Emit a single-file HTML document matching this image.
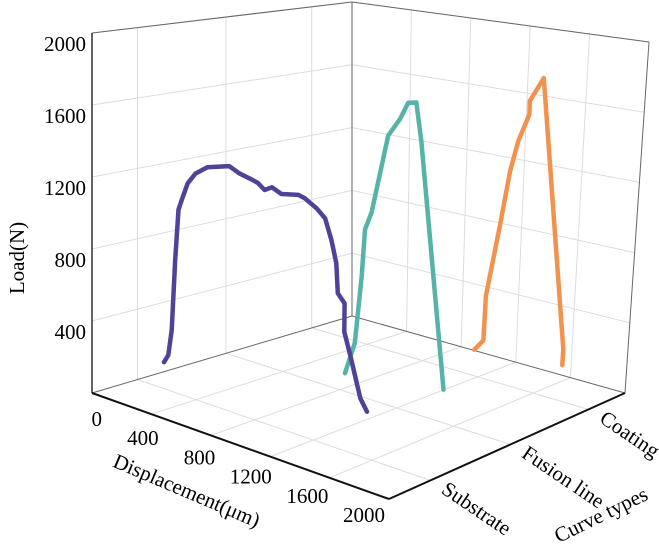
<!DOCTYPE html>
<html><head><meta charset="utf-8"><style>
html,body{margin:0;padding:0;background:#fff;}
svg{display:block;font-family:"Liberation Serif",serif;}
</style></head><body>
<svg id="chart" width="659" height="551" viewBox="0 0 659 551" xmlns="http://www.w3.org/2000/svg">
<g id="grid"></g>
<g id="edges"></g>
<g id="series"></g>
<g id="labels"></g>
<text x="0" y="0" transform="translate(24,258) rotate(-90)" text-anchor="middle" font-size="21">Load(N)</text>
<text x="0" y="0" transform="translate(184,497) rotate(23)" text-anchor="middle" font-size="21">Displacement(μm)</text>
<text x="0" y="0" transform="translate(604,521) rotate(-26)" text-anchor="middle" font-size="21">Curve types</text>
</svg>
<script>
const dispTicks = [0, 400, 800, 1200, 1600, 2000];
const loadTicks = [400, 800, 1200, 1600, 2000];
const typeCategories = ["Substrate", "Fusion line", "Coating"];
const typePositions = [0.175, 0.515, 0.845];
const substrateDisp = [195,224,247,270,292,315,354,406,486,634,702,784,828,874,924,988,1102,1146,1226,1284,1328,1362,1374,1420,1420,1464,1532,1578];
const substrateLoad = [156,204,350,750,1036,1098,1197,1262,1314,1352,1327,1311,1301,1272,1297,1274,1293,1284,1247,1206,1100,985,828,785,635,514,312,253];
const fusionDisp = [861,926,966,984,1027,1130,1209,1261,1316,1356,1548];
const fusionLoad = [117,304,690,958,1062,1512,1620,1718,1728,1517,195];
const coatingDisp = [1190,1252,1258,1338,1392,1440,1508,1508,1595,1819,1818];
const coatingLoad = [162,231,490,914,1234,1415,1580,1657,1800,304,214];

const NS = "http://www.w3.org/2000/svg";
const D_MAX = 2000, Z_MAX = 2000;
function P(d, t, z) {
  const u = d / D_MAX, v = t;
  const bx = 92 + 297*u + 260*v - 24*u*v;
  const by = 393 + 106*u - 77*v - 29*u*v;
  const H = 360 + 37*u - 46*v;
  const sx = 24*u*v;
  return [bx + sx*z/Z_MAX, by - H*z/Z_MAX];
}
function line(g, a, b, stroke, w) {
  const el = document.createElementNS(NS, "line");
  el.setAttribute("x1", a[0].toFixed(1)); el.setAttribute("y1", a[1].toFixed(1));
  el.setAttribute("x2", b[0].toFixed(1)); el.setAttribute("y2", b[1].toFixed(1));
  el.setAttribute("stroke", stroke); el.setAttribute("stroke-width", w);
  g.appendChild(el);
  return el;
}
const grid = document.getElementById("grid");
const GC = "#dcdcdc";
loadTicks.forEach(z => {
  const l1 = line(grid, P(0,0,z), P(0,1,z), GC, 1);
  
  
  const l2 = line(grid, P(0,1,z), P(D_MAX,1,z), GC, 1);
  
  
});
typePositions.forEach(t => {
  const l1 = line(grid, P(0,t,0), P(0,t,Z_MAX), GC, 1);
  
  
  const l2 = line(grid, P(0,t,0), P(D_MAX,t,0), GC, 1);
  
  
});
dispTicks.slice(1, -1).forEach(d => {
  const l1 = line(grid, P(d,1,0), P(d,1,Z_MAX), GC, 1);
  
  
  const l2 = line(grid, P(d,0,0), P(d,1,0), GC, 1);
  
  
});
const edges = document.getElementById("edges");
const EC = "#666";
[[P(0,0,Z_MAX),P(0,1,Z_MAX)],[P(0,1,Z_MAX),P(D_MAX,1,Z_MAX)],[P(0,1,0),P(0,1,Z_MAX)],
 [P(0,0,0),P(0,1,0)],[P(0,1,0),P(D_MAX,1,0)],[P(D_MAX,1,0),P(D_MAX,1,Z_MAX)]].forEach(e => {
  const el = line(edges, e[0], e[1], EC, 1);
  
  
});
const zAxis = line(edges, P(0,0,0), P(0,0,Z_MAX), "#111", 1.3);


const xAxis = line(edges, P(0,0,0), P(D_MAX,0,0), "#111", 2);


const yAxis = line(edges, P(D_MAX,0,0), P(D_MAX,1,0), "#111", 2);



const seriesG = document.getElementById("series");
function drawSeries(ds, zs, t, color, name) {
  const pts = ds.map((d, i) => P(d, t, zs[i]).map(n => n.toFixed(1)).join(",")).join(" ");
  const pl = document.createElementNS(NS, "polyline");
  pl.setAttribute("points", pts);
  pl.setAttribute("fill", "none");
  pl.setAttribute("stroke", color);
  pl.setAttribute("stroke-width", "4.5");
  pl.setAttribute("stroke-linejoin", "round");
  pl.setAttribute("stroke-linecap", "round");
  
  
  seriesG.appendChild(pl);
}
drawSeries(coatingDisp, coatingLoad, 0.833, "#f3924f", "coating-curve");
drawSeries(fusionDisp, fusionLoad, 0.5, "#55b3a7", "fusion-line-curve");
drawSeries(substrateDisp, substrateLoad, 0.167, "#4e4399", "substrate-curve");

const labels = document.getElementById("labels");
function text(x, y, s, anchor, transform) {
  const el = document.createElementNS(NS, "text");
  el.setAttribute("x", x.toFixed(1)); el.setAttribute("y", y.toFixed(1));
  el.setAttribute("font-size", "21");
  el.setAttribute("text-anchor", anchor);
  if (transform) el.setAttribute("transform", transform);
  el.textContent = s;
  labels.appendChild(el);
  return el;
}
loadTicks.forEach(z => {
  const p = P(0,0,z);
  const el = text(p[0]-6, p[1]+18, String(z), "end");
  
  
});
dispTicks.forEach(d => {
  const p = P(d,0,0);
  const el = text(p[0]+10-0.007*d, p[1]+33-0.005*d, String(d), "end");
  
  
});
typeCategories.forEach((c, i) => {
  const p = P(D_MAX, typePositions[i], 0);
  const x = p[0] + 10, y = p[1] + 12;
  const el = text(x, y, c, "start", "rotate(34 " + x.toFixed(1) + " " + y.toFixed(1) + ")");
  
  
});
</script>
</body></html>
